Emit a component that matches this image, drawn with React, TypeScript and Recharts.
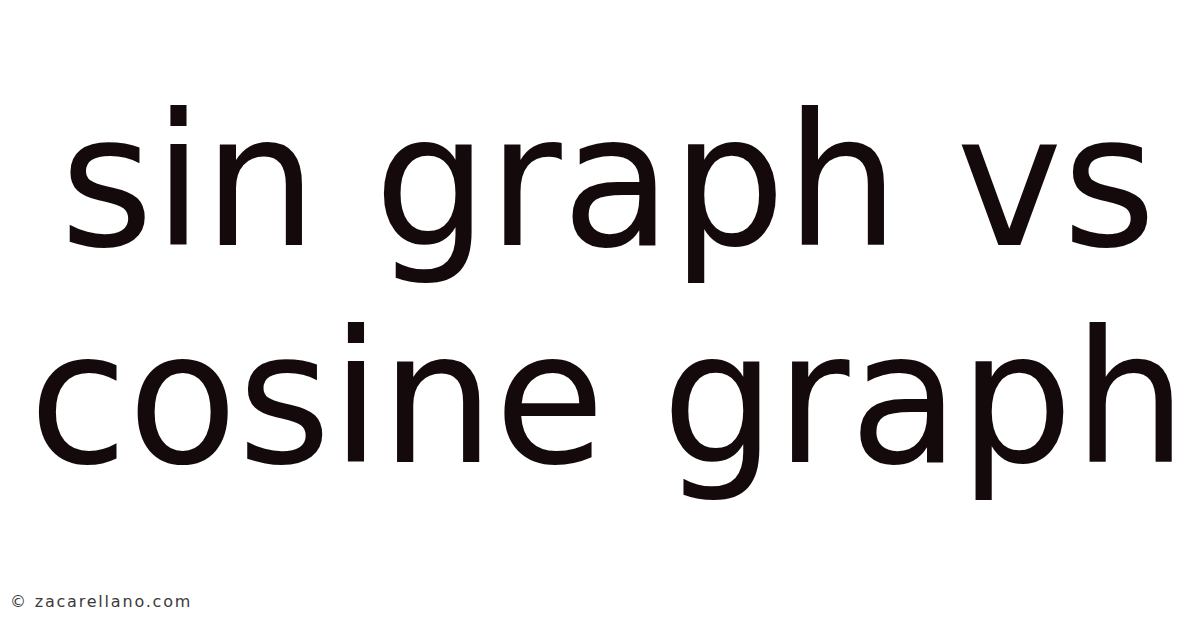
import React from 'react';
import { Surface, Text } from 'recharts';

const titleLines = ['sin graph vs', 'cosine graph'];
const lineBaselines = [245, 462];
const footerText = '© zacarellano.com';

const W = 1200;
const H = 628;
const CX = 608;

export default function App() {
  return (
    <div style={{ position: 'absolute', left: 0, top: 0, width: W, height: H, background: '#fff' }}>
      <Surface width={W} height={H}>
        <rect x={0} y={0} width={W} height={H} fill="#ffffff" />
        <g transform={`translate(${CX},0) scale(0.975,1) translate(${-CX},0)`}>
          {titleLines.map((line, i) => (
            <Text
              key={line}
              x={CX}
              y={lineBaselines[i]}
              textAnchor="middle"
              verticalAnchor="end"
              fontFamily="DejaVu Sans"
              fontSize={184}
              fill="#140a0b"
            >
              {line}
            </Text>
          ))}
        </g>
        <Text
          x={10}
          y={607}
          textAnchor="start"
          verticalAnchor="end"
          fontFamily="DejaVu Sans"
          fontSize={16}
          letterSpacing={1.8}
          fill="#3a3a3a"
        >
          {footerText}
        </Text>
      </Surface>
    </div>
  );
}
